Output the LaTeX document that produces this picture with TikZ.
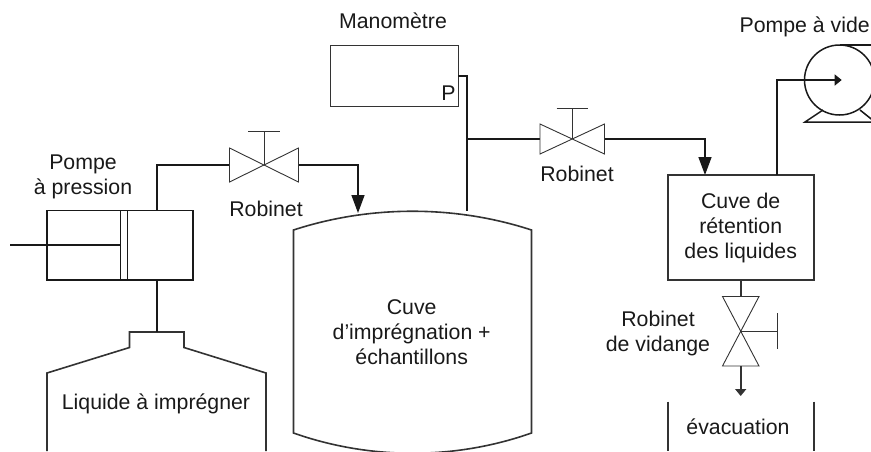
\documentclass[tikz,border=0pt]{standalone}
\usepackage{fontspec}
\setmainfont{Liberation Sans}
\usetikzlibrary{arrows.meta}
\tikzset{
  pipe/.style={draw=black!90,line width=1.5pt,line join=miter},
  thin part/.style={draw=black!80,line width=0.9pt},
  wall/.style={draw=black!80,line width=1.6pt,line join=miter},
  big arrow/.style={-{Triangle[length=18pt,width=13pt]}},
  small arrow/.style={-{Triangle[length=7pt,width=11pt]}},
  label/.style={inner sep=0pt,outer sep=0pt,anchor=base,align=center,text=black!90,font=\fontsize{21.3}{24.8}\selectfont},
  vbody/.style={thin part,fill=white},
}
\begin{document}
\begin{tikzpicture}[x=1pt,y=-1pt]
\useasboundingbox (0,0) rectangle (871,451);
\clip (0,0) rectangle (871,451);

% coordinates
\coordinate (rodend) at (10,245);
\coordinate (pumpNW) at (47,210.5);
\coordinate (pumpSE) at (193,280);
\coordinate (pumptop) at (157,210.5);
\coordinate (pumpbot) at (157,280);
\coordinate (pistonL) at (120.5,245);
\coordinate (bottlecap) at (157,332);
\coordinate (v1) at (264,165);
\coordinate (v1L) at (229.5,165);
\coordinate (v1R) at (298.5,165);
\coordinate (tank1in) at (358,213);
\coordinate (manout) at (458,76);
\coordinate (mantap) at (467,210.5);
\coordinate (tee) at (467,139);
\coordinate (v2) at (572.5,139);
\coordinate (v2L) at (540,139);
\coordinate (v2R) at (604.5,139);
\coordinate (boxin) at (705,175);
\coordinate (boxout) at (777,175);
\coordinate (pumpin) at (841.7,80);
\coordinate (v3) at (740.7,331);
\coordinate (v3T) at (740.7,296.5);
\coordinate (v3B) at (740.7,366);
\coordinate (boxbot) at (740.7,280);
\coordinate (drain) at (740.7,396);

% pump
\draw[pipe] (pumpNW) rectangle (pumpSE);
\draw[pipe] (120.5,210.5) -- (120.5,280) (127.5,210.5) -- (127.5,280);
\draw[pipe] (rodend) -- (pistonL);

% bottle
\draw[wall] (47,451) -- (47,373) -- (129.5,347.5) -- (129.5,332) -- (184,332) -- (184,347.5) -- (266,373) -- (266,451);
\draw[pipe] (pumpbot) -- (bottlecap);
\draw[pipe] (pumptop) |- (v1L);

% valve 1
\draw[vbody] (229.5,148) -- (298.5,182) -- (298.5,148) -- (229.5,182) -- cycle;
\draw[thin part] (v1) -- (264,131) (248,131) -- (280,131);
\draw[pipe,big arrow] (v1R) -| (tank1in);

% tank
\draw[wall] (293.5,230) .. controls (370,205) and (455,205) .. (531.5,230) -- (531.5,433) .. controls (455,460) and (370,460) .. (293.5,433) -- cycle;

% manometer
\draw[thin part] (330,45.5) rectangle (458,106.5);
\draw[pipe] (manout) -| (mantap);
\draw[pipe] (tee) -- (v2L);

% valve 2
\draw[vbody] (540,124) -- (604.5,154) -- (604.5,124) -- (540,154) -- cycle;
\draw[thin part] (v2) -- (572.5,108.5) (556.5,108.5) -- (588,108.5);
\draw[pipe,big arrow] (v2R) -| (boxin);

% box
\draw[wall] (668,175) rectangle (814,280);
\draw[pipe,small arrow] (boxout) |- (pumpin);

% vacuum pump
\draw[pipe] (839.5,80) circle (35);
\draw[pipe] (839.5,45) -- (875,45);
\draw[pipe] (823,110) -- (805,122) -- (875,122) -- (860,110);

% valve 3
\draw[wall] (boxbot) -- (v3T);
\draw[vbody] (722.5,296.5) -- (759,366) -- (722.5,366) -- (759,296.5) -- cycle;
\draw[thin part] (v3) -- (777,331) (777,313) -- (777,349);
\draw[wall,small arrow] (v3B) -- (drain);

% outlet walls
\draw[wall] (668,401.5) -- (668,451) (814,401.5) -- (814,451);

% labels
\node[label] (lmano) at (393,28) {Manomètre};
\node[label] (lvide) at (804.7,32) {Pompe à vide};
\node[label] (lpress) at (83,194) {Pompe\\à pression};
\node[label] (lrob1) at (266,216) {Robinet};
\node[label] (lrob2) at (577,181) {Robinet};
\node[label] (lliq) at (156,409) {Liquide à imprégner};
\node[label] (lcuve) at (411.7,364) {Cuve\\d’imprégnation +\\échantillons};
\node[label] (lbox) at (740.7,258.5) {Cuve de\\rétention\\des liquides};
\node[label] (lvid) at (658,351) {Robinet\\de vidange};
\node[label] (levac) at (738,434) {évacuation};
\node[label] (lp) at (448.5,100) {P};
\end{tikzpicture}
\end{document}
